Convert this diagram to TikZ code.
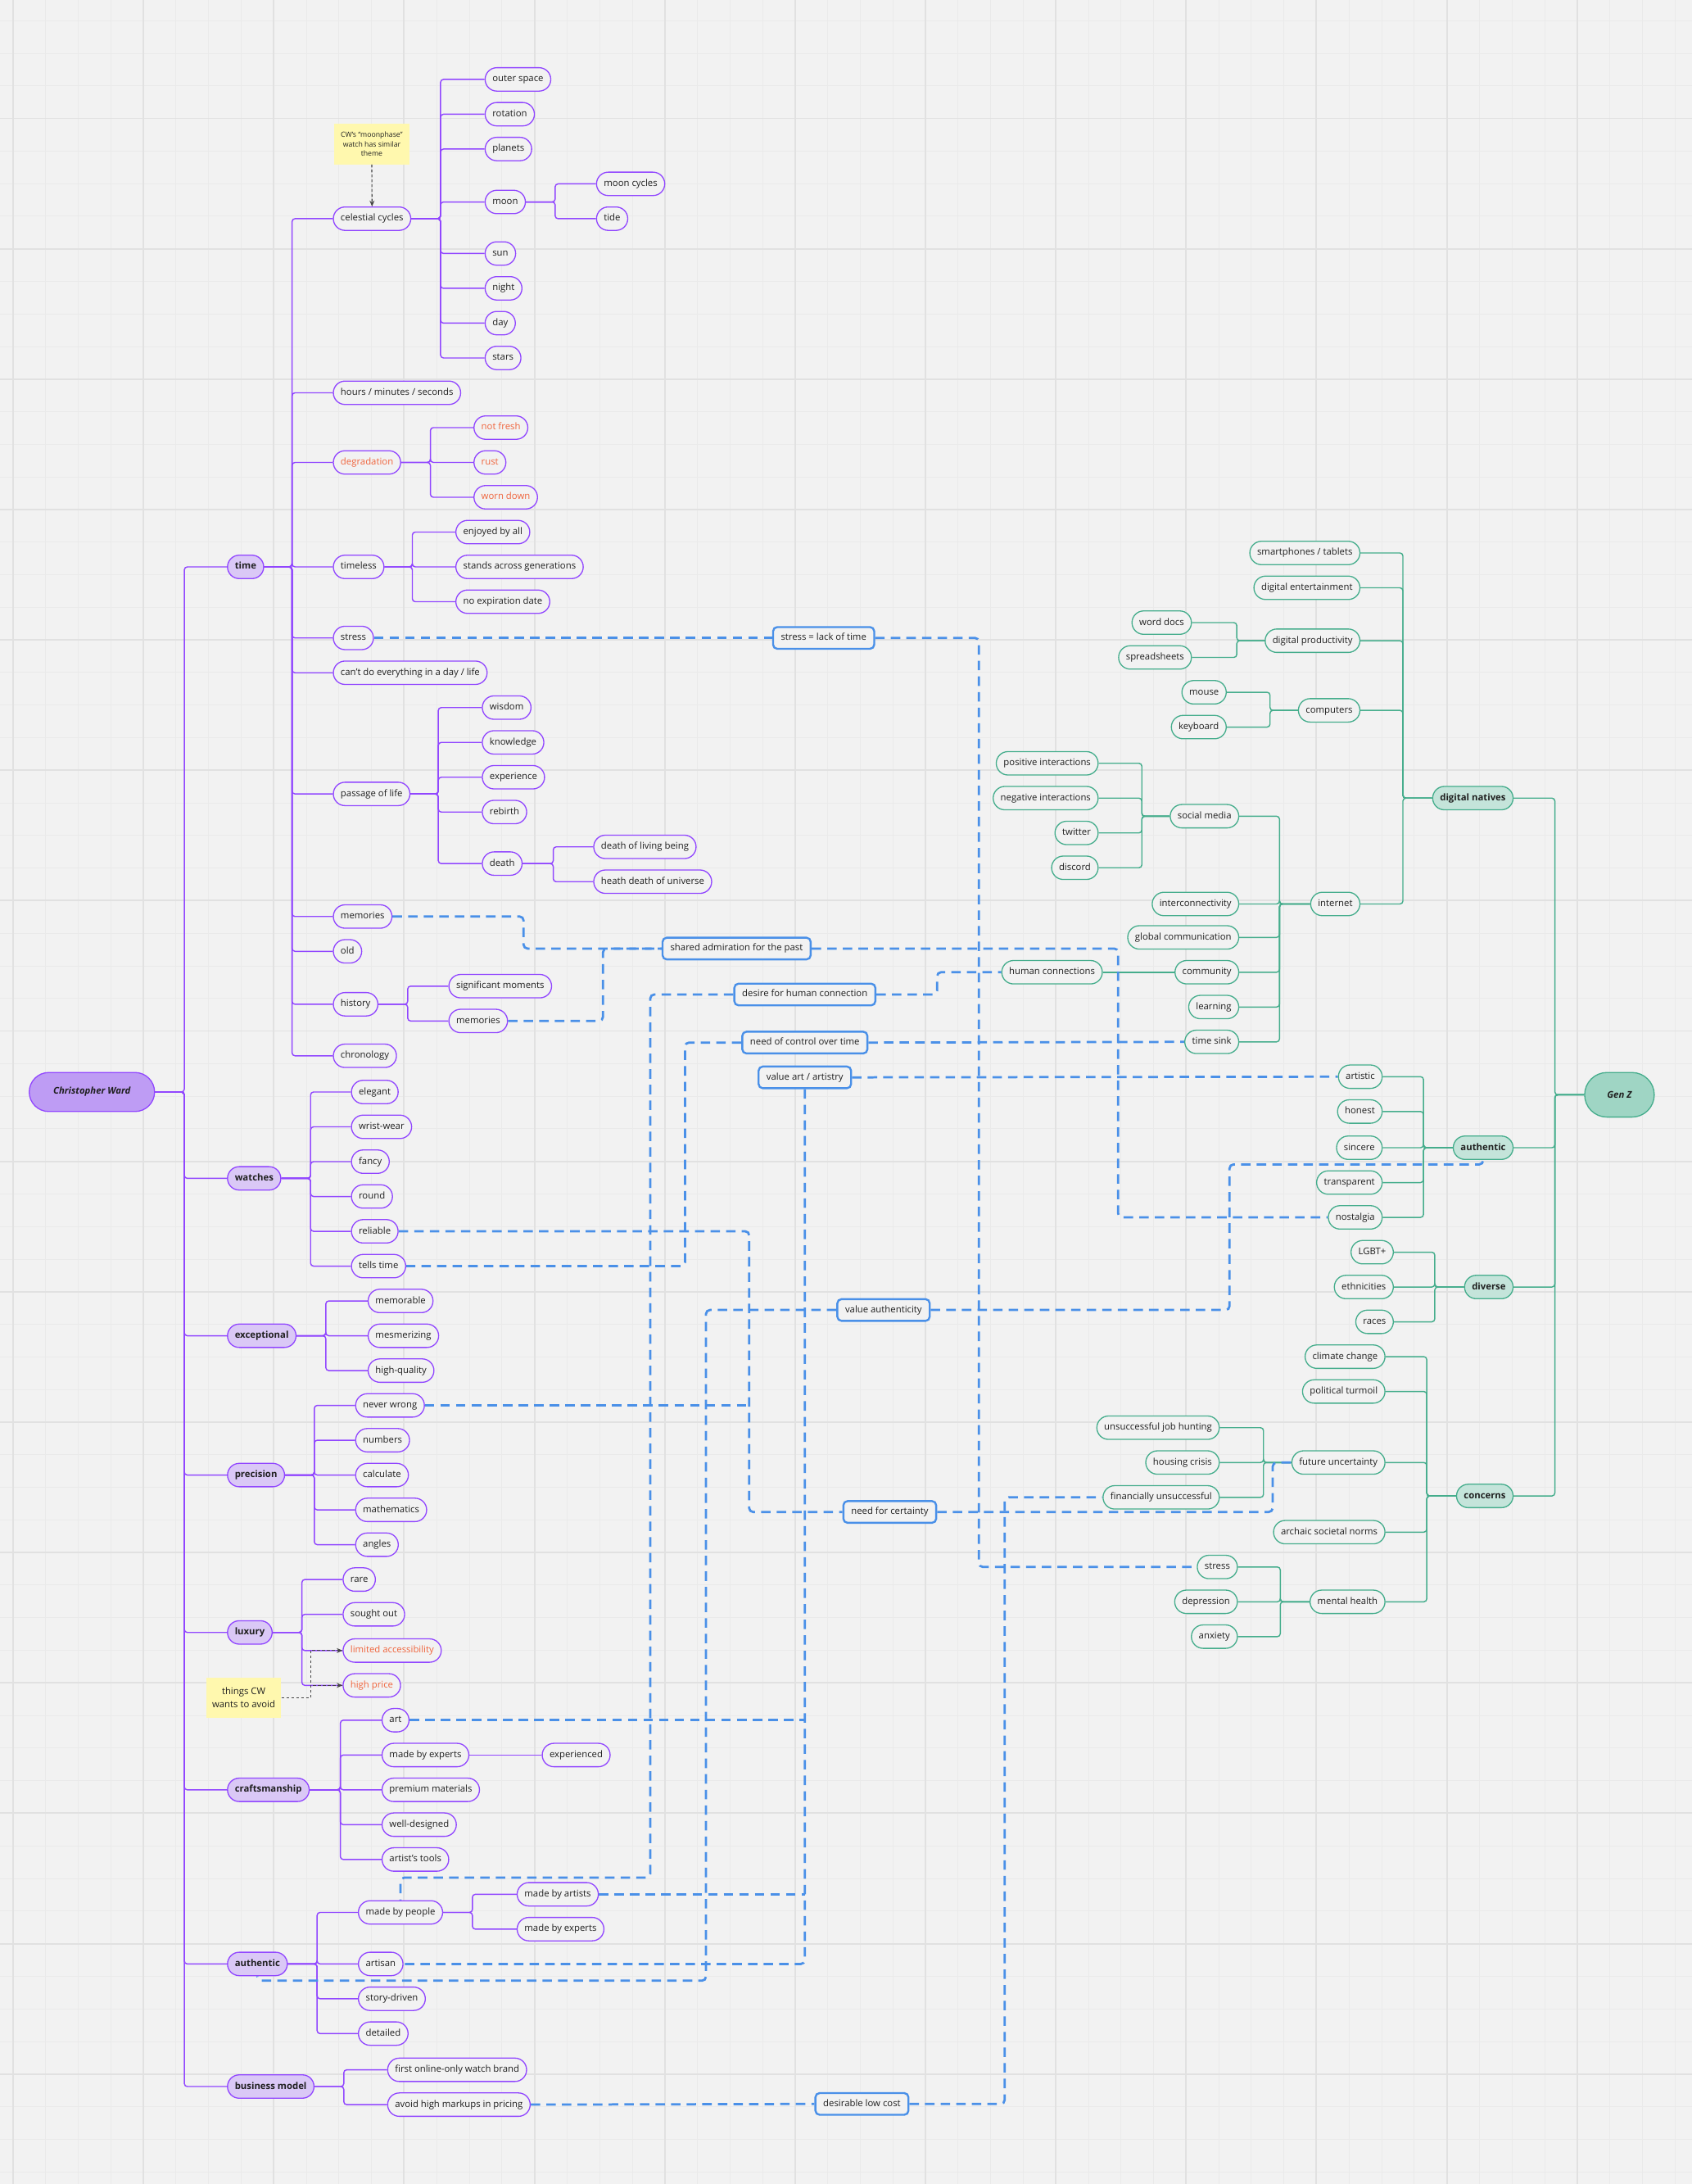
\documentclass[tikz,border=0pt]{standalone}
\usepackage{fontspec}
\setmainfont{Open Sans}
\usetikzlibrary{positioning, arrows.meta, backgrounds}

\definecolor{paper}{HTML}{F2F2F2}
\definecolor{gridMajor}{HTML}{E1E1E1}
\definecolor{gridMinor}{HTML}{EAEAEA}
\definecolor{ink}{HTML}{1F1F1F}
\definecolor{cwLine}{HTML}{9146FF}
\definecolor{cwRootFill}{HTML}{BE9CF4}
\definecolor{cwMainFill}{HTML}{DAC8F6}
\definecolor{gzLine}{HTML}{45AD8C}
\definecolor{gzRootFill}{HTML}{9FD5C4}
\definecolor{gzMainFill}{HTML}{C4E4DA}
\definecolor{linkBlue}{HTML}{4A90E8}
\definecolor{warnOrange}{HTML}{F0643C}
\definecolor{stickyFill}{HTML}{FFF8AE}
\definecolor{noteGray}{HTML}{444444}

\newcommand{\mapfont}{\fontsize{9.5}{11.5}\selectfont}

\tikzset{
  pill/.style={rounded corners=0.42cm, minimum height=0.84cm, inner xsep=7.5pt,
               inner ysep=2pt, text height=7pt, text depth=2pt, line width=1.1pt,
               font=\mapfont, text=ink},
  cwroot/.style={draw=cwLine, fill=cwRootFill, line width=1.1pt, rounded corners=0.7cm,
                 minimum width=4.5cm, minimum height=1.4cm, text=ink,
                 font=\mapfont\bfseries\itshape},
  cwmain/.style={pill, draw=cwLine, fill=cwMainFill, anchor=west, font=\mapfont\bfseries},
  cwleaf/.style={pill, draw=cwLine, fill=paper, anchor=west},
  gzroot/.style={draw=gzLine, fill=gzRootFill, line width=1.1pt, rounded corners=0.8cm,
                 minimum width=2.5cm, minimum height=1.6cm, text=ink,
                 font=\mapfont\bfseries\itshape},
  gzmain/.style={pill, draw=gzLine, fill=gzMainFill, anchor=east, font=\mapfont\bfseries},
  gzleaf/.style={pill, draw=gzLine, fill=paper, anchor=east},
  warn/.style={text=warnOrange},
  insight/.style={draw=linkBlue, fill=paper, line width=2pt, rounded corners=0.15cm,
                  minimum height=0.78cm, inner xsep=8pt, text height=7pt, text depth=2pt,
                  font=\mapfont, text=ink},
  stickynote/.style={fill=stickyFill, align=center, text=ink, inner sep=2pt,
                     minimum width=2.7cm, minimum height=1.45cm},
  cwbranch/.style={draw=cwLine, line width=1.2pt, rounded corners=3pt},
  gzbranch/.style={draw=gzLine, line width=1.2pt, rounded corners=3pt},
  idealink/.style={draw=linkBlue, line width=2.3pt, dash pattern=on 0.34cm off 0.22cm,
                   rounded corners=4pt},
  notearrow/.style={draw=noteGray, line width=0.9pt, dash pattern=on 3pt off 2pt,
                    -{Stealth[length=6pt,width=5pt]}},
  gridmajor/.style={draw=gridMajor, line width=1.6pt},
  gridminor/.style={draw=gridMinor, line width=0.7pt},
}

\begin{document}
\begin{tikzpicture}[x=0.05cm, y=-0.05cm]
  \useasboundingbox (0,0) rectangle (1215,1568);

  % Christopher Ward
  \node[cwroot] (cw) at (66,784) {Christopher Ward};
  \node[cwmain] (time) at (163,407) {time};
  \node[cwmain] (watches) at (163,846) {watches};
  \node[cwmain] (exceptional) at (163,959) {exceptional};
  \node[cwmain] (precision) at (163,1059) {precision};
  \node[cwmain] (luxury) at (163,1172) {luxury};
  \node[cwmain] (craft) at (163,1285) {craftsmanship};
  \node[cwmain] (authL) at (163,1410) {authentic};
  \node[cwmain] (business) at (163,1498) {business model};

  % time
  \node[cwleaf] (celestial) at (239,157) {celestial cycles};
  \node[cwleaf] (hms) at (239,282) {hours / minutes / seconds};
  \node[cwleaf, warn] (degradation) at (239,332) {degradation};
  \node[cwleaf] (timeless) at (239,407) {timeless};
  \node[cwleaf] (stressT) at (239,458) {stress};
  \node[cwleaf] (cantdo) at (239,483) {can't do everything in a day / life};
  \node[cwleaf] (passage) at (239,570) {passage of life};
  \node[cwleaf] (memT) at (239,658) {memories};
  \node[cwleaf] (old) at (239,683) {old};
  \node[cwleaf] (history) at (239,721) {history};
  \node[cwleaf] (chrono) at (239,758) {chronology};

  \node[cwleaf] (outer) at (348,57) {outer space};
  \node[cwleaf] (rotation) at (348,82) {rotation};
  \node[cwleaf] (planets) at (348,107) {planets};
  \node[cwleaf] (moon) at (348,145) {moon};
  \node[cwleaf] (sun) at (348,182) {sun};
  \node[cwleaf] (night) at (348,207) {night};
  \node[cwleaf] (day) at (348,232) {day};
  \node[cwleaf] (stars) at (348,257) {stars};
  \node[cwleaf] (mooncyc) at (428,132) {moon cycles};
  \node[cwleaf] (tide) at (428,157) {tide};

  \node[cwleaf, warn] (notfresh) at (340,307) {not fresh};
  \node[cwleaf, warn] (rust) at (340,332) {rust};
  \node[cwleaf, warn] (worn) at (340,357) {worn down};

  \node[cwleaf] (enjoyed) at (327,382) {enjoyed by all};
  \node[cwleaf] (generations) at (327,407) {stands across generations};
  \node[cwleaf] (noexpiry) at (327,432) {no expiration date};

  \node[cwleaf] (wisdom) at (346,508) {wisdom};
  \node[cwleaf] (knowledge) at (346,533) {knowledge};
  \node[cwleaf] (experience) at (346,558) {experience};
  \node[cwleaf] (rebirth) at (346,583) {rebirth};
  \node[cwleaf] (death) at (346,620) {death};
  \node[cwleaf] (deathliving) at (426,608) {death of living being};
  \node[cwleaf] (heatdeath) at (426,633) {heath death of universe};

  \node[cwleaf] (significant) at (322,708) {significant moments};
  \node[cwleaf] (memH) at (322,733) {memories};

  % watches .. business model
  \node[cwleaf] (elegant) at (252,784) {elegant};
  \node[cwleaf] (wrist) at (252,809) {wrist-wear};
  \node[cwleaf] (fancy) at (252,834) {fancy};
  \node[cwleaf] (round) at (252,859) {round};
  \node[cwleaf] (reliable) at (252,884) {reliable};
  \node[cwleaf] (tells) at (252,909) {tells time};

  \node[cwleaf] (memorable) at (264,934) {memorable};
  \node[cwleaf] (mesmerizing) at (264,959) {mesmerizing};
  \node[cwleaf] (highq) at (264,984) {high-quality};

  \node[cwleaf] (never) at (255,1009) {never wrong};
  \node[cwleaf] (numbers) at (255,1034) {numbers};
  \node[cwleaf] (calculate) at (255,1059) {calculate};
  \node[cwleaf] (maths) at (255,1084) {mathematics};
  \node[cwleaf] (angles) at (255,1109) {angles};

  \node[cwleaf] (rare) at (246,1134) {rare};
  \node[cwleaf] (sought) at (246,1159) {sought out};
  \node[cwleaf, warn] (limited) at (246,1185) {limited accessibility};
  \node[cwleaf, warn] (highprice) at (246,1210) {high price};

  \node[cwleaf] (art) at (274,1235) {art};
  \node[cwleaf] (crExperts) at (274,1260) {made by experts};
  \node[cwleaf] (premium) at (274,1285) {premium materials};
  \node[cwleaf] (welldesigned) at (274,1310) {well-designed};
  \node[cwleaf] (tools) at (274,1335) {artist's tools};
  \node[cwleaf] (experienced) at (389,1260) {experienced};

  \node[cwleaf] (byPeople) at (257,1373) {made by people};
  \node[cwleaf] (artisan) at (257,1410) {artisan};
  \node[cwleaf] (story) at (257,1435) {story-driven};
  \node[cwleaf] (detailed) at (257,1460) {detailed};
  \node[cwleaf] (byArtists) at (371,1360) {made by artists};
  \node[cwleaf] (peExperts) at (371,1385) {made by experts};

  \node[cwleaf] (firstOnline) at (278,1486) {first online-only watch brand};
  \node[cwleaf] (markups) at (278,1511) {avoid high markups in pricing};

  % Gen Z
  \node[gzroot] (genz) at (1163,786) {Gen Z};
  \node[gzmain] (natives) at (1087,573) {digital natives};
  \node[gzmain] (authG) at (1087,824) {authentic};
  \node[gzmain] (diverse) at (1087,924) {diverse};
  \node[gzmain] (concerns) at (1087,1074) {concerns};

  \node[gzleaf] (smart) at (977,397) {smartphones / tablets};
  \node[gzleaf] (entertain) at (977,422) {digital entertainment};
  \node[gzleaf] (productivity) at (977,460) {digital productivity};
  \node[gzleaf] (computers) at (977,510) {computers};
  \node[gzleaf] (internet) at (977,649) {internet};
  \node[gzleaf] (worddocs) at (856,447) {word docs};
  \node[gzleaf] (sheets) at (856,472) {spreadsheets};
  \node[gzleaf] (mouse) at (881,497) {mouse};
  \node[gzleaf] (keyboard) at (881,522) {keyboard};

  \node[gzleaf] (social) at (890,586) {social media};
  \node[gzleaf] (interconn) at (890,649) {interconnectivity};
  \node[gzleaf] (global) at (890,673) {global communication};
  \node[gzleaf] (community) at (890,698) {community};
  \node[gzleaf] (learning) at (890,723) {learning};
  \node[gzleaf] (timesink) at (890,748) {time sink};
  \node[gzleaf] (positive) at (789,548) {positive interactions};
  \node[gzleaf] (negative) at (789,573) {negative interactions};
  \node[gzleaf] (twitter) at (789,598) {twitter};
  \node[gzleaf] (discord) at (789,623) {discord};
  \node[gzleaf] (humconn) at (792,698) {human connections};

  \node[gzleaf] (artistic) at (993,773) {artistic};
  \node[gzleaf] (honest) at (993,798) {honest};
  \node[gzleaf] (sincere) at (993,824) {sincere};
  \node[gzleaf] (transparent) at (993,849) {transparent};
  \node[gzleaf] (nostalgia) at (993,874) {nostalgia};

  \node[gzleaf] (lgbt) at (1001,899) {LGBT+};
  \node[gzleaf] (ethnic) at (1001,924) {ethnicities};
  \node[gzleaf] (races) at (1001,949) {races};

  \node[gzleaf] (climate) at (995,974) {climate change};
  \node[gzleaf] (political) at (995,999) {political turmoil};
  \node[gzleaf] (future) at (995,1050) {future uncertainty};
  \node[gzleaf] (archaic) at (995,1100) {archaic societal norms};
  \node[gzleaf] (mental) at (995,1150) {mental health};
  \node[gzleaf] (jobhunt) at (876,1025) {unsuccessful job hunting};
  \node[gzleaf] (housing) at (876,1050) {housing crisis};
  \node[gzleaf] (financial) at (876,1075) {financially unsuccessful};
  \node[gzleaf] (gstress) at (889,1125) {stress};
  \node[gzleaf] (depression) at (889,1150) {depression};
  \node[gzleaf] (anxiety) at (889,1175) {anxiety};

  % shared ideas
  \node[insight] (lackTime) at (591.5,458) {stress = lack of time};
  \node[insight] (sharedPast) at (529,681) {shared admiration for the past};
  \node[insight] (desire) at (578,714) {desire for human connection};
  \node[insight] (control) at (578,748.5) {need of control over time};
  \node[insight] (valArt) at (578,773.5) {value art / artistry};
  \node[insight] (valAuth) at (634.5,940.5) {value authenticity};
  \node[insight] (certainty) at (639,1085.5) {need for certainty};
  \node[insight] (lowCost) at (619,1510.5) {desirable low cost};

  % sticky notes
  \node[stickynote, font=\fontsize{7.3}{9.8}\selectfont] (note1) at (267,103.5)
    {CW's “moonphase”\\watch has similar\\theme};
  \node[stickynote, font=\fontsize{9.5}{13.5}\selectfont] (note2) at (175,1219)
    {things CW\\wants to avoid};

  % bends of the dashed links
  \coordinate (busStress) at (703,458);
  \coordinate (busMem) at (376,670);
  \coordinate (busMemH) at (433,700);
  \coordinate (busNost) at (803,700);
  \coordinate (busHum) at (673,700);
  \coordinate (busDesire) at (467,1348);
  \coordinate (busCtrl) at (492,800);
  \coordinate (busAuthL) at (507,1422);
  \coordinate (busAuthR) at (883,836);
  \coordinate (busCert) at (538,1000);
  \coordinate (busFuture) at (914,1060);
  \coordinate (busLow) at (721.5,1300);
  \coordinate (busNote) at (223,1200);

  \begin{scope}[on background layer]
    \fill[paper] (0,0) rectangle (1215,1568);
    \foreach \i in {0,...,51}
      \draw[gridminor] ({9.4+23.4*\i},0) -- ({9.4+23.4*\i},1568);
    \foreach \i in {1,...,67}
      \draw[gridminor] (0,{-8.6+23.4*\i}) -- (1215,{-8.6+23.4*\i});
    \foreach \i in {0,...,12}
      \draw[gridmajor] ({9.4+93.6*\i},0) -- ({9.4+93.6*\i},1568);
    \foreach \i in {1,...,16}
      \draw[gridmajor] (0,{-8.6+93.6*\i}) -- (1215,{-8.6+93.6*\i});

    % Christopher Ward branches
    \foreach \nd in {time,watches,exceptional,precision,luxury,craft,authL,business}
      \draw[cwbranch] (cw.east) -- ++(21,0) |- (\nd.west);
    \foreach \nd in {celestial,hms,degradation,timeless,stressT,cantdo,passage,memT,old,history,chrono}
      \draw[cwbranch] (time.east) -- ++(20,0) |- (\nd.west);
    \foreach \nd in {outer,rotation,planets,moon,sun,night,day,stars}
      \draw[cwbranch] (celestial.east) -- ++(21,0) |- (\nd.west);
    \foreach \nd in {mooncyc,tide}
      \draw[cwbranch] (moon.east) -- ++(21,0) |- (\nd.west);
    \foreach \nd in {notfresh,rust,worn}
      \draw[cwbranch] (degradation.east) -- ++(21,0) |- (\nd.west);
    \foreach \nd in {enjoyed,generations,noexpiry}
      \draw[cwbranch] (timeless.east) -- ++(20,0) |- (\nd.west);
    \foreach \nd in {wisdom,knowledge,experience,rebirth,death}
      \draw[cwbranch] (passage.east) -- ++(20,0) |- (\nd.west);
    \foreach \nd in {deathliving,heatdeath}
      \draw[cwbranch] (death.east) -- ++(22,0) |- (\nd.west);
    \foreach \nd in {significant,memH}
      \draw[cwbranch] (history.east) -- ++(21,0) |- (\nd.west);
    \foreach \nd in {elegant,wrist,fancy,round,reliable,tells}
      \draw[cwbranch] (watches.east) -- ++(21,0) |- (\nd.west);
    \foreach \nd in {memorable,mesmerizing,highq}
      \draw[cwbranch] (exceptional.east) -- ++(21,0) |- (\nd.west);
    \foreach \nd in {never,numbers,calculate,maths,angles}
      \draw[cwbranch] (precision.east) -- ++(21,0) |- (\nd.west);
    \foreach \nd in {rare,sought,limited,highprice}
      \draw[cwbranch] (luxury.east) -- ++(21,0) |- (\nd.west);
    \foreach \nd in {art,crExperts,premium,welldesigned,tools}
      \draw[cwbranch] (craft.east) -- ++(22,0) |- (\nd.west);
    \draw[cwbranch] (crExperts.east) -- (experienced.west);
    \foreach \nd in {byPeople,artisan,story,detailed}
      \draw[cwbranch] (authL.east) -- ++(21,0) |- (\nd.west);
    \foreach \nd in {byArtists,peExperts}
      \draw[cwbranch] (byPeople.east) -- ++(21,0) |- (\nd.west);
    \foreach \nd in {firstOnline,markups}
      \draw[cwbranch] (business.east) -- ++(21,0) |- (\nd.west);

    % Gen Z branches
    \foreach \nd in {natives,authG,diverse,concerns}
      \draw[gzbranch] (genz.west) -- ++(-21,0) |- (\nd.east);
    \foreach \nd in {smart,entertain,productivity,computers,internet}
      \draw[gzbranch] (natives.west) -- ++(-21,0) |- (\nd.east);
    \foreach \nd in {worddocs,sheets}
      \draw[gzbranch] (productivity.west) -- ++(-20,0) |- (\nd.east);
    \foreach \nd in {mouse,keyboard}
      \draw[gzbranch] (computers.west) -- ++(-20,0) |- (\nd.east);
    \foreach \nd in {social,interconn,global,community,learning,timesink}
      \draw[gzbranch] (internet.west) -- ++(-22,0) |- (\nd.east);
    \foreach \nd in {positive,negative,twitter,discord}
      \draw[gzbranch] (social.west) -- ++(-20,0) |- (\nd.east);
    \draw[gzbranch] (community.west) -- (humconn.east);
    \foreach \nd in {artistic,honest,sincere,transparent,nostalgia}
      \draw[gzbranch] (authG.west) -- ++(-21,0) |- (\nd.east);
    \foreach \nd in {lgbt,ethnic,races}
      \draw[gzbranch] (diverse.west) -- ++(-21,0) |- (\nd.east);
    \foreach \nd in {climate,political,future,archaic,mental}
      \draw[gzbranch] (concerns.west) -- ++(-21,0) |- (\nd.east);
    \foreach \nd in {jobhunt,housing,financial}
      \draw[gzbranch] (future.west) -- ++(-20,0) |- (\nd.east);
    \foreach \nd in {gstress,depression,anxiety}
      \draw[gzbranch] (mental.west) -- ++(-21,0) |- (\nd.east);

    % dashed links between the two maps
    \draw[idealink] (stressT.east) -- (lackTime.west);
    \draw[idealink] (lackTime.east) -- (lackTime.east -| busStress) |- (gstress.west);
    \draw[idealink] (memT.east) -- (memT.east -| busMem) |- (sharedPast.west);
    \draw[idealink] (memH.east) -- (memH.east -| busMemH) |- (sharedPast.west);
    \draw[idealink] (sharedPast.east) -- (sharedPast.east -| busNost) |- (nostalgia.west);
    \draw[idealink] (desire.east) -- (desire.east -| busHum) |- (humconn.west);
    \draw[idealink] (desire.west) -| (busDesire) -| (byPeople.north);
    \draw[idealink] (control.east) -- (timesink.west);
    \draw[idealink] (control.west) -- (control.west -| busCtrl) |- (tells.east);
    \draw[idealink] (valArt.east) -- (artistic.west);
    \draw[idealink] (valArt.south) |- (artisan.east);
    \draw[idealink] (art.east) -- (art.east -| valArt.south);
    \draw[idealink] (byArtists.east) -- (byArtists.east -| valArt.south);
    \draw[idealink] (valAuth.west) -| (busAuthL) -| (authL.south);
    \draw[idealink] (valAuth.east) -| (busAuthR) -| (authG.south);
    \draw[idealink] (reliable.east) -- (reliable.east -| busCert) |- (certainty.west);
    \draw[idealink] (never.east) -- (never.east -| busCert);
    \draw[idealink] (certainty.east) -- (certainty.east -| busFuture) |- (future.west);
    \draw[idealink] (markups.east) -- (lowCost.west);
    \draw[idealink] (lowCost.east) -- (lowCost.east -| busLow) |- (financial.west);
  \end{scope}

  % notes
  \draw[notearrow] (note1.south) -- (celestial.north);
  \draw[notearrow] (note2.east) -- (note2.east -| busNote) |- (limited.west);
  \draw[notearrow] (note2.east) -- (note2.east -| busNote) |- (highprice.west);
\end{tikzpicture}
\end{document}
